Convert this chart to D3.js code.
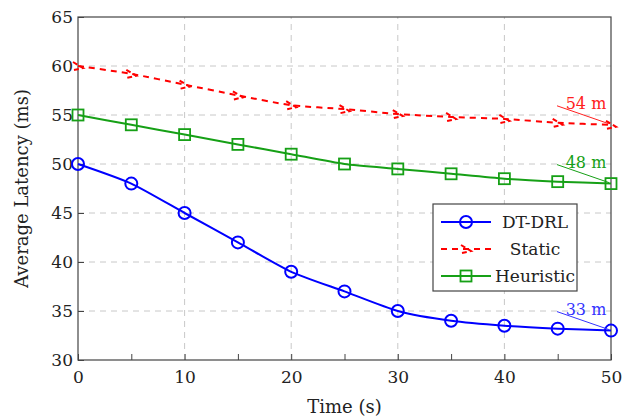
<!DOCTYPE html>
<html>
<head>
<meta charset="utf-8">
<script src="https://cdn.jsdelivr.net/npm/d3@7"></script>
<style>
  body { margin: 0; background: #fff; }
</style>
</head>
<body>
<div id="container"></div>
<script>
/** DATA */
const times = [0, 5, 10, 15, 20, 25, 30, 35, 40, 45, 50];
const dtdrl = [50, 48, 45, 42, 39, 37, 35, 34, 33.5, 33.2, 33];
const staticLat = [60, 59.2, 58.1, 57, 56, 55.6, 55.1, 54.8, 54.6, 54.2, 54];
const heuristic = [55, 54, 53, 52, 51, 50, 49.5, 49, 48.5, 48.2, 48];
const seriesNames = ["DT-DRL", "Static", "Heuristic"];
const notes = ["33 m", "54 m", "48 m"];
const xTicks = [0, 10, 20, 30, 40, 50];
const yTicks = [30, 35, 40, 45, 50, 55, 60, 65];

const FONT = "DejaVu Serif";

/** LAYOUT */
const width = 622, height = 419;
const margin = { top: 17, right: 11, bottom: 59, left: 78 };

const svg = d3.select("#container").append("svg")
  .attr("width", width)
  .attr("height", height)
  .attr("font-family", FONT);

const x = d3.scaleLinear().domain([0, 50]).range([margin.left, width - margin.right]);
const y = d3.scaleLinear().domain([30, 65]).range([height - margin.bottom, margin.top]);

// grid
svg.append("g").selectAll("line").data(xTicks.slice(1, -1)).join("line")
  .attr("x1", d => x(d)).attr("x2", d => x(d))
  .attr("y1", y(30)).attr("y2", y(65))
  .attr("stroke", "#c8c8c8").attr("stroke-dasharray", "6,5");
svg.append("g").selectAll("line").data(yTicks.slice(1, -1)).join("line")
  .attr("x1", x(0)).attr("x2", x(50))
  .attr("y1", d => y(d)).attr("y2", d => y(d))
  .attr("stroke", "#c8c8c8").attr("stroke-dasharray", "6,5");

// axes (ticks pointing inward)
const xAxis = svg.append("g").attr("transform", `translate(0,${y(30)})`)
  .call(d3.axisBottom(x).tickValues(d3.range(0, 51, 5)).tickSize(-6).tickPadding(8)
    .tickFormat(d => d % 10 === 0 ? d : ""));
const yAxis = svg.append("g").attr("transform", `translate(${x(0)},0)`)
  .call(d3.axisLeft(y).tickValues(yTicks).tickSize(-6).tickPadding(5));
[xAxis, yAxis].forEach(g => {
  g.attr("font-family", FONT);
  g.select(".domain").remove();
  g.selectAll("line").attr("stroke", "#444");
  g.selectAll("text").attr("font-size", 17).attr("fill", "#222");
});
xAxis.selectAll("text").attr("dy", "0.9em");

// frame
svg.append("rect")
  .attr("x", x(0)).attr("y", y(65))
  .attr("width", x(50) - x(0)).attr("height", y(30) - y(65))
  .attr("fill", "none").attr("stroke", "#444").attr("stroke-width", 1.2);

// axis titles
svg.append("text").attr("x", (x(0) + x(50)) / 2).attr("y", 413)
  .attr("text-anchor", "middle").attr("font-size", 18).attr("fill", "#222").text("Time (s)");
svg.append("text").attr("transform", `translate(28,${(y(30) + y(65)) / 2}) rotate(-90)`)
  .attr("text-anchor", "middle").attr("font-size", 18).attr("fill", "#222").text("Average Latency (ms)");

// series
const series = [
  { name: seriesNames[0], values: dtdrl, color: "#0000ff", dash: null, mark: "circle" },
  { name: seriesNames[1], values: staticLat, color: "#ff0000", dash: "6,5", mark: "tri" },
  { name: seriesNames[2], values: heuristic, color: "#16a016", dash: null, mark: "square" }
];

const line = d3.line().x(d => x(d[0])).y(d => y(d[1])).curve(d3.curveCardinal.tension(0.35));

function drawMark(g, m, color) {
  if (m === "circle") {
    g.append("circle").attr("r", 6).attr("fill", "none").attr("stroke", color).attr("stroke-width", 2);
  } else if (m === "square") {
    g.append("rect").attr("x", -5.5).attr("y", -5.5).attr("width", 11).attr("height", 11)
      .attr("fill", "none").attr("stroke", color).attr("stroke-width", 1.8);
  } else {
    g.append("path").attr("d", "M-5,-4 L5,2 L-4,4")
      .attr("fill", "none").attr("stroke", color).attr("stroke-width", 2)
      .attr("stroke-dasharray", "5,3");
  }
}

series.forEach(s => {
  const pts = times.map((t, i) => [t, s.values[i]]);
  svg.append("path").datum(pts).attr("d", line)
    .attr("fill", "none").attr("stroke", s.color).attr("stroke-width", 2)
    .attr("stroke-dasharray", s.dash);
  pts.forEach(p => {
    const g = svg.append("g").attr("transform", `translate(${x(p[0])},${y(p[1])})`);
    drawMark(g, s.mark, s.color);
  });
});

// annotations at t = 50
const annot = [
  { text: notes[0], v: dtdrl[10], color: "#3333ff" },
  { text: notes[1], v: staticLat[10], color: "#ff2020" },
  { text: notes[2], v: heuristic[10], color: "#16a016" }
];
annot.forEach(a => {
  const px = x(50), py = y(a.v);
  svg.append("line").attr("x1", px - 54).attr("y1", py - 19).attr("x2", px - 2).attr("y2", py - 1)
    .attr("stroke", a.color).attr("stroke-width", 1);
  svg.append("text").attr("x", px - 25).attr("y", py - 16)
    .attr("text-anchor", "middle").attr("font-size", 16).attr("fill", a.color).text(a.text);
});

// legend
const lg = svg.append("g").attr("transform", "translate(433,204)");
lg.append("rect").attr("width", 144).attr("height", 87)
  .attr("fill", "#fff").attr("stroke", "#444").attr("stroke-width", 1.2);
series.forEach((s, i) => {
  const cy = 18 + i * 27;
  lg.append("line").attr("x1", 8).attr("x2", 58).attr("y1", cy).attr("y2", cy)
    .attr("stroke", s.color).attr("stroke-width", 2).attr("stroke-dasharray", s.dash);
  drawMark(lg.append("g").attr("transform", `translate(33,${cy})`), s.mark, s.color);
  lg.append("text").attr("x", 102).attr("y", cy + 6).attr("text-anchor", "middle")
    .attr("font-size", 17).attr("fill", "#222").text(s.name);
});
</script>
</body>
</html>
